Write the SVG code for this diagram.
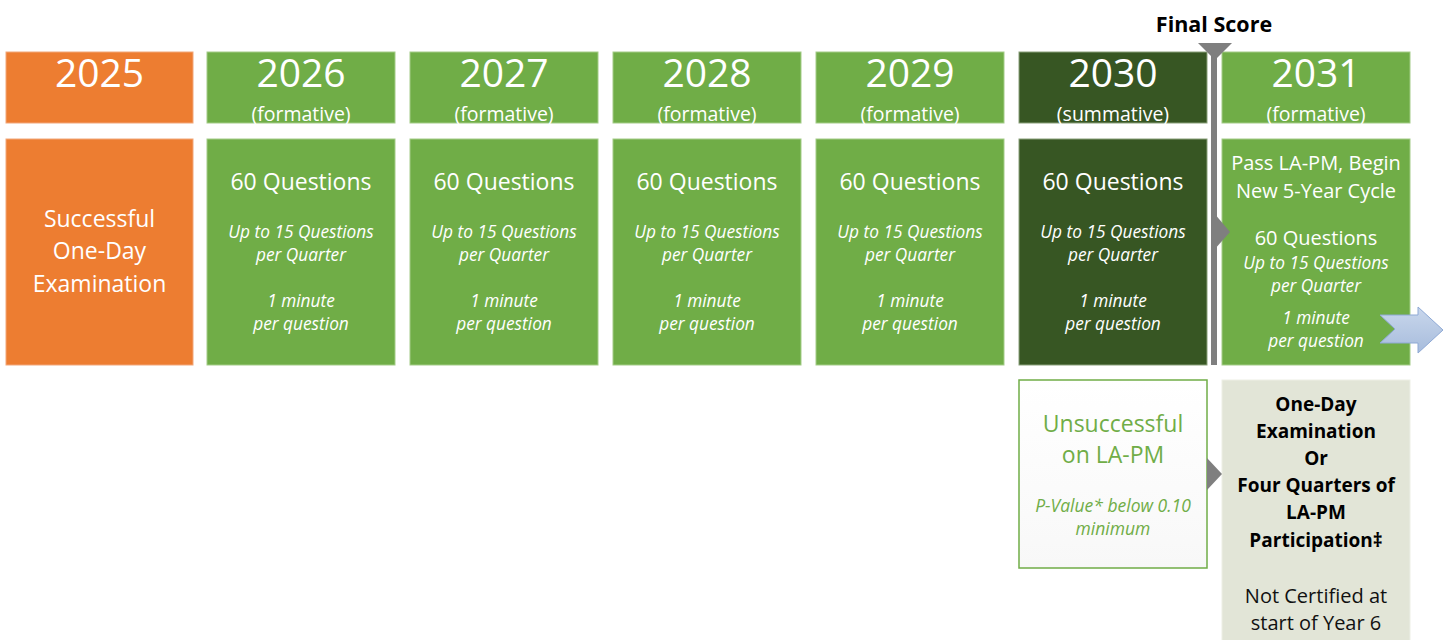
<svg xmlns="http://www.w3.org/2000/svg" width="1449" height="640" viewBox="0 0 1449 640">
<style>
text{font-family:"Open Sans","Liberation Sans",sans-serif;text-anchor:middle}
.yr{font-size:39px;fill:#fff}
.sub{font-size:19.5px;fill:#fff}
.q{font-size:23px;fill:#fff}
.it{font-size:17.3px;font-style:italic;fill:#fff}
.big{font-size:23px;fill:#fff}
.orange{fill:#ed7d31;stroke:#f2a77a;stroke-width:1}
.green{fill:#70ad47;stroke:#a3cc87;stroke-width:1}
.dark{fill:#375623;stroke:#8aa07a;stroke-width:1}
.b{font-size:19px;font-weight:bold;fill:#000}
.n{font-size:20px;fill:#111}
</style>
<defs>
<linearGradient id="wg" x1="0" y1="0" x2="0" y2="1"><stop offset="0" stop-color="#ffffff"/><stop offset="1" stop-color="#f8f8f8"/></linearGradient>
<linearGradient id="bg" x1="0" y1="0" x2="0" y2="1"><stop offset="0" stop-color="#c9d7ec"/><stop offset="1" stop-color="#a7bcdc"/></linearGradient>
</defs>

<g id="final-score">
<text x="1214" y="32" style="font-size:21.5px;font-weight:bold;fill:#000">Final Score</text>
</g>

<g id="y2025">
<rect class="orange" x="6" y="52" width="187" height="71"/>
<text class="yr" x="99.5" y="87">2025</text>
<rect class="orange" x="6" y="139" width="187" height="226"/>
<text class="big" x="99.5" y="227">Successful</text>
<text class="big" x="99.5" y="259">One-Day</text>
<text class="big" x="99.5" y="292">Examination</text>
</g>

<g id="y2026">
<rect class="green" x="207" y="52" width="188" height="71"/>
<text class="yr" x="301" y="87">2026</text>
<text class="sub" x="301" y="121">(formative)</text>
<rect class="green" x="207" y="139" width="188" height="226"/>
<text class="q" x="301" y="190">60 Questions</text>
<text class="it" x="301" y="238">Up to 15 Questions</text>
<text class="it" x="301" y="261">per Quarter</text>
<text class="it" x="301" y="307">1 minute</text>
<text class="it" x="301" y="330">per question</text>
</g>

<g id="y2027">
<rect class="green" x="410" y="52" width="188" height="71"/>
<text class="yr" x="504" y="87">2027</text>
<text class="sub" x="504" y="121">(formative)</text>
<rect class="green" x="410" y="139" width="188" height="226"/>
<text class="q" x="504" y="190">60 Questions</text>
<text class="it" x="504" y="238">Up to 15 Questions</text>
<text class="it" x="504" y="261">per Quarter</text>
<text class="it" x="504" y="307">1 minute</text>
<text class="it" x="504" y="330">per question</text>
</g>

<g id="y2028">
<rect class="green" x="613" y="52" width="188" height="71"/>
<text class="yr" x="707" y="87">2028</text>
<text class="sub" x="707" y="121">(formative)</text>
<rect class="green" x="613" y="139" width="188" height="226"/>
<text class="q" x="707" y="190">60 Questions</text>
<text class="it" x="707" y="238">Up to 15 Questions</text>
<text class="it" x="707" y="261">per Quarter</text>
<text class="it" x="707" y="307">1 minute</text>
<text class="it" x="707" y="330">per question</text>
</g>

<g id="y2029">
<rect class="green" x="816" y="52" width="188" height="71"/>
<text class="yr" x="910" y="87">2029</text>
<text class="sub" x="910" y="121">(formative)</text>
<rect class="green" x="816" y="139" width="188" height="226"/>
<text class="q" x="910" y="190">60 Questions</text>
<text class="it" x="910" y="238">Up to 15 Questions</text>
<text class="it" x="910" y="261">per Quarter</text>
<text class="it" x="910" y="307">1 minute</text>
<text class="it" x="910" y="330">per question</text>
</g>

<g id="y2030">
<rect class="dark" x="1019" y="52" width="188" height="71"/>
<text class="yr" x="1113" y="87">2030</text>
<text class="sub" x="1113" y="121">(summative)</text>
<rect class="dark" x="1019" y="139" width="188" height="226"/>
<text class="q" x="1113" y="190">60 Questions</text>
<text class="it" x="1113" y="238">Up to 15 Questions</text>
<text class="it" x="1113" y="261">per Quarter</text>
<text class="it" x="1113" y="307">1 minute</text>
<text class="it" x="1113" y="330">per question</text>
</g>

<g id="y2031">
<rect class="green" x="1222" y="52" width="188" height="71"/>
<text class="yr" x="1316" y="87">2031</text>
<text class="sub" x="1316" y="121">(formative)</text>
<rect class="green" x="1222" y="139" width="188" height="226"/>
<text class="q" x="1316" y="170" style="font-size:20px">Pass LA-PM, Begin</text>
<text class="q" x="1316" y="198" style="font-size:20px">New 5-Year Cycle</text>
<text class="q" x="1316" y="245" style="font-size:20px">60 Questions</text>
<text class="it" x="1316" y="269">Up to 15 Questions</text>
<text class="it" x="1316" y="292">per Quarter</text>
<text class="it" x="1316" y="324">1 minute</text>
<text class="it" x="1316" y="347">per question</text>
</g>

<g id="unsuccessful">
<rect x="1019" y="380" width="188" height="188" fill="url(#wg)" stroke="#70ad47" stroke-width="1.5"/>
<text x="1113" y="432" style="font-size:23px;fill:#70ad47">Unsuccessful</text>
<text x="1113" y="463" style="font-size:23px;fill:#70ad47">on LA-PM</text>
<text x="1113" y="512" style="font-size:17.5px;font-style:italic;fill:#70ad47">P-Value* below 0.10</text>
<text x="1113" y="535" style="font-size:17.5px;font-style:italic;fill:#70ad47">minimum</text>
</g>

<g id="not-certified">
<rect x="1222" y="380" width="188" height="262" fill="#e2e5d7" stroke="#edefe6" stroke-width="1"/>
<text class="b" x="1316" y="411">One-Day</text>
<text class="b" x="1316" y="438">Examination</text>
<text class="b" x="1316" y="465">Or</text>
<text class="b" x="1316" y="492">Four Quarters of</text>
<text class="b" x="1316" y="519">LA-PM</text>
<text class="b" x="1316" y="547">Participation‡</text>
<text class="n" x="1316" y="603">Not Certified at</text>
<text class="n" x="1316" y="630">start of Year 6</text>
</g>

<g id="connectors">
<rect x="1211" y="56" width="6" height="309" fill="#7f7f7f"/>
<polygon points="1198,43 1232,43 1215,60" fill="#7f7f7f"/>
<polygon points="1214,213 1230,232 1214,250" fill="#7f7f7f"/>
<polygon points="1207,458 1222,474 1207,490" fill="#7f7f7f"/>
<polygon points="1380,315 1418,315 1418,307 1443,330 1418,353 1418,343 1380,343 1395,329" fill="url(#bg)" stroke="#8ea9d5" stroke-width="1"/>
</g>
</svg>
